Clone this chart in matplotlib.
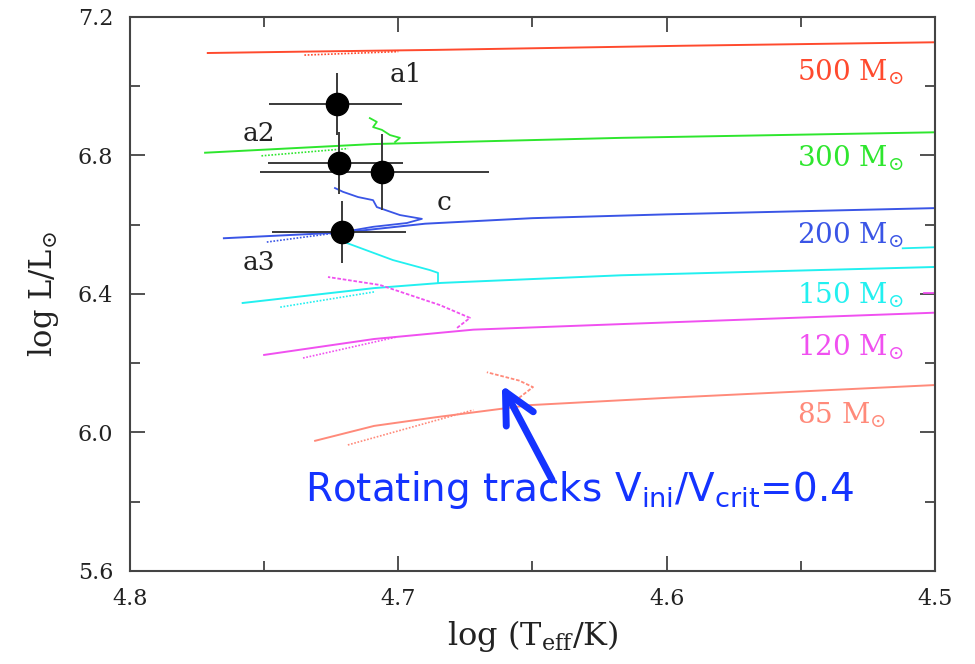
import matplotlib
matplotlib.use("Agg")
import matplotlib.pyplot as plt
from matplotlib.ticker import MultipleLocator

plt.rcParams["font.family"] = ["DejaVu Serif"]
plt.rcParams["mathtext.fontset"] = "custom"
plt.rcParams["mathtext.rm"] = "DejaVu Serif"
plt.rcParams["mathtext.sf"] = "DejaVu Sans"

# evolutionary tracks (non-rotating, solid): log Teff, log L
trk500_x = [4.771, 4.735, 4.686, 4.5935, 4.5]
trk500_y = [7.096, 7.100, 7.105, 7.117, 7.127]
trk300_x = [4.772, 4.7094, 4.6167, 4.5]
trk300_y = [6.808, 6.833, 6.851, 6.867]
trk200_x = [4.765, 4.72, 4.69, 4.65, 4.60, 4.5]
trk200_y = [6.561, 6.578, 6.603, 6.619, 6.630, 6.648]
trk150_x = [4.758, 4.709, 4.684, 4.617, 4.5]
trk150_y = [6.374, 6.417, 6.432, 6.454, 6.478]
trk120_x = [4.750, 4.709, 4.672, 4.617, 4.5]
trk120_y = [6.224, 6.270, 6.297, 6.313, 6.346]
trk85_x = [4.731, 4.709, 4.686, 4.651, 4.60, 4.5]
trk85_y = [5.976, 6.019, 6.044, 6.079, 6.100, 6.137]

# rotating tracks (start + late excursions)
rot500_x = [4.735, 4.70]
rot500_y = [7.090, 7.100]
rot300_x = [4.751, 4.7187]
rot300_y = [6.799, 6.820]
rot300_tail_x = [4.7012, 4.6994, 4.7031, 4.7061, 4.7094, 4.708, 4.7106]
rot300_tail_y = [6.839, 6.851, 6.859, 6.874, 6.882, 6.897, 6.908]
rot200_x = [4.749, 4.7206, 4.7094, 4.6968, 4.6912, 4.6994, 4.708, 4.7094, 4.7150, 4.7206, 4.7236]
rot200_y = [6.550, 6.579, 6.594, 6.605, 6.617, 6.628, 6.651, 6.671, 6.680, 6.695, 6.706]
rot150_x = [4.744, 4.709]
rot150_y = [6.362, 6.406]
rot150_tail_x = [4.6852, 4.6852, 4.6882, 4.702, 4.7191, 4.7206]
rot150_tail_y = [6.432, 6.461, 6.469, 6.498, 6.547, 6.562]
rot120_x = [4.7355, 4.7005]
rot120_y = [6.215, 6.276]
rot120_tail_x = [4.6781, 4.6733, 4.6845, 4.7068, 4.7262]
rot120_tail_y = [6.302, 6.331, 6.368, 6.426, 6.449]
rot85_x = [4.7188, 4.672]
rot85_y = [5.964, 6.065]
rot85_tail_x = [4.655, 4.6498, 4.655, 4.667]
rot85_tail_y = [6.100, 6.131, 6.150, 6.174]

# short pieces at the right edge
edge150_x = [4.512, 4.5]
edge150_y = [6.532, 6.535]
edge120_x = [4.504, 4.5]
edge120_y = [6.403, 6.403]

masses = ["500", "300", "200", "150", "120", "85"]
mass_label_y = [7.041, 6.793, 6.570, 6.397, 6.247, 6.050]
colors = ["#ff4a2e", "#2ee62e", "#3a55e6", "#22f0f0", "#f050f0", "#ff8a7a"]

# observed stars: name, log Teff, log L, errors
star_names = ["a1", "a2", "c", "a3"]
star_x = [4.7229, 4.7221, 4.7061, 4.7210]
star_y = [6.949, 6.778, 6.752, 6.579]
star_xerr_lo = [0.0242, 0.0239, 0.0400, 0.0240]
star_xerr_hi = [0.0254, 0.0264, 0.0455, 0.0261]
star_yerr = [0.090, 0.090, 0.110, 0.090]
label_x = [4.7031, 4.7580, 4.6856, 4.7580]
label_y = [7.033, 6.864, 6.663, 6.492]

fig = plt.figure(figsize=(9.75, 6.64), dpi=100)
ax = fig.add_axes([0.1333, 0.1401, 0.8256, 0.8343])

solid = [(trk500_x, trk500_y), (trk300_x, trk300_y), (trk200_x, trk200_y),
         (trk150_x, trk150_y), (trk120_x, trk120_y), (trk85_x, trk85_y)]
rot = [(rot500_x, rot500_y), (rot300_x, rot300_y), (rot200_x[:2], rot200_y[:2]),
       (rot150_x, rot150_y), (rot120_x, rot120_y), (rot85_x, rot85_y)]
tails = [None, (rot300_tail_x, rot300_tail_y), (rot200_x[1:], rot200_y[1:]),
         (rot150_tail_x, rot150_tail_y), (rot120_tail_x, rot120_tail_y),
         (rot85_tail_x, rot85_tail_y)]

for i, c in enumerate(colors):
    ax.plot(*solid[i], color=c, lw=1.4)
    ax.plot(*rot[i], color=c, lw=1.2, ls=(0, (1, 1)))
    if tails[i] is not None:
        ls = "-" if i in (1, 2, 3) else (0, (2, 1))
        ax.plot(*tails[i], color=c, lw=1.3, ls=ls)
    ax.text(4.5515, mass_label_y[i], masses[i] + r" M$_{\odot}$", color=c,
            fontsize=20, ha="left", va="center")

ax.plot(edge150_x, edge150_y, color=colors[3], lw=1.3)
ax.plot(edge120_x, edge120_y, color=colors[4], lw=1.3)

ax.errorbar(star_x, star_y, xerr=[star_xerr_lo, star_xerr_hi], yerr=star_yerr,
            fmt="o", color="black", ecolor="#3a3a3a", elinewidth=1.4,
            markersize=16, capsize=0, zorder=5)
for n, lx, ly in zip(star_names, label_x, label_y):
    ax.text(lx, ly, n, fontsize=19, ha="left", va="center", color="#222222")

ax.annotate("", xy=(4.6614, 6.137), xytext=(4.6427, 5.863),
            arrowprops=dict(arrowstyle="->,head_length=1.1,head_width=0.55",
                            mutation_scale=20, color="#1433ff", lw=5,
                            capstyle="round", joinstyle="round",
                            shrinkA=0, shrinkB=0))
ax.text(4.7348, 5.834, r"Rotating tracks V$_{\mathsf{ini}}$/V$_{\mathsf{crit}}$=0.4",
        color="#1433ff", fontsize=28, ha="left", va="center",
        family=["DejaVu Sans"])

ax.set_xlim(4.8, 4.5)
ax.set_ylim(5.6, 7.2)
ax.xaxis.set_major_locator(MultipleLocator(0.1))
ax.xaxis.set_minor_locator(MultipleLocator(0.05))
ax.yaxis.set_major_locator(MultipleLocator(0.4))
ax.yaxis.set_minor_locator(MultipleLocator(0.2))
ax.tick_params(which="both", direction="in", top=True, right=True,
               colors="#333333", labelcolor="#222222", labelsize=16)
ax.tick_params(axis="x", which="major", pad=12)
ax.tick_params(axis="y", which="major", pad=12)
ax.tick_params(which="major", length=11, width=1.2)
ax.tick_params(which="minor", length=7, width=1.2)
for s in ax.spines.values():
    s.set_color("#444444")
    s.set_linewidth(1.5)

ax.set_xlabel(r"log (T$_{\rm eff}$/K)", fontsize=23, color="#222222", labelpad=6)
ax.set_ylabel(r"log L/L$_{\odot}$", fontsize=22, color="#222222", labelpad=12)

fig.savefig("out.png", dpi=100)
